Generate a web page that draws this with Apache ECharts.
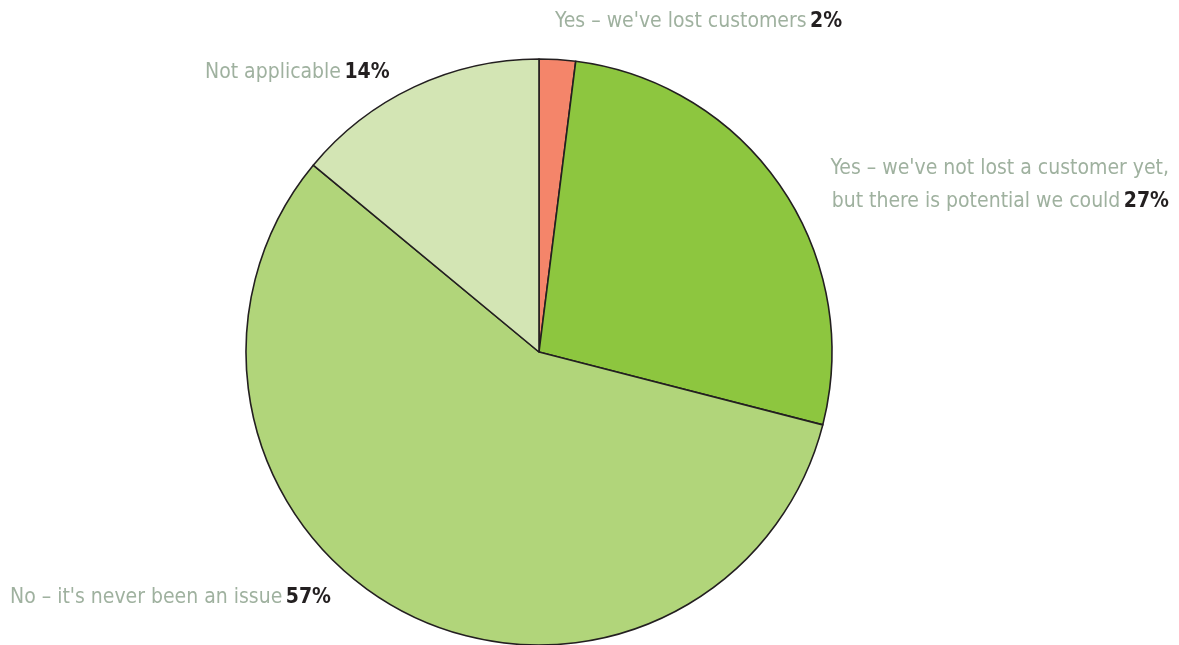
<!DOCTYPE html>
<html>
<head>
<meta charset="utf-8">
<script src="https://cdn.jsdelivr.net/npm/echarts@6/dist/echarts.min.js"></script>
<style>
  html, body { margin: 0; padding: 0; background: #ffffff; }
  #chart { width: 1179px; height: 645px; }
</style>
</head>
<body>
<div id="chart"></div>
<script>
// Survey answers, clockwise from twelve o'clock
const categories = [
  "Yes – we've lost customers",
  "Yes – we've not lost a customer yet,\nbut there is potential we could",
  "No – it's never been an issue",
  "Not applicable"
];
const shares = [2, 27, 57, 14];
const sliceColors = ['#f4856a', '#8dc63f', '#b1d57a', '#d3e5b4'];

// Where each label sits on the canvas
const labelSpots = [
  { x: 555, y: 22, align: 'left' },
  { x: 1169, y: 185, align: 'right' },
  { x: 10, y: 598, align: 'left' },
  { x: 205, y: 73, align: 'left' }
];

const chart = echarts.init(document.getElementById('chart'), null, { renderer: 'canvas' });

const FONT = '"Liberation Sans Narrow", "DejaVu Sans Condensed", sans-serif';

chart.setOption({
  animation: false,
  backgroundColor: '#ffffff',
  series: [{
    type: 'pie',
    center: [539, 352],
    radius: 293,
    startAngle: 90,
    clockwise: true,
    avoidLabelOverlap: false,
    itemStyle: { borderColor: '#231f20', borderWidth: 1.6 },
    labelLine: { show: false },
    label: {
      show: true,
      fontFamily: FONT,
      lineHeight: 33,
      formatter: function (p) {
        const lines = p.name.split('\n');
        const last = lines.length - 1;
        return lines.map(function (ln, i) {
          return '{n|' + ln + '}' + (i === last ? ' {v|' + p.value + '%}' : '');
        }).join('\n');
      },
      rich: {
        n: { color: '#9fb19f', fontSize: 21, fontFamily: FONT, lineHeight: 33 },
        v: { color: '#231f20', fontSize: 21, fontWeight: 'bold', fontFamily: FONT, lineHeight: 33 }
      }
    },
    labelLayout: function (p) {
      const s = labelSpots[p.dataIndex];
      return { x: s.x, y: s.y, align: s.align, verticalAlign: 'middle', hideOverlap: false };
    },
    data: categories.map(function (c, i) {
      return { name: c, value: shares[i], itemStyle: { color: sliceColors[i] } };
    })
  }]
});
</script>
</body>
</html>
